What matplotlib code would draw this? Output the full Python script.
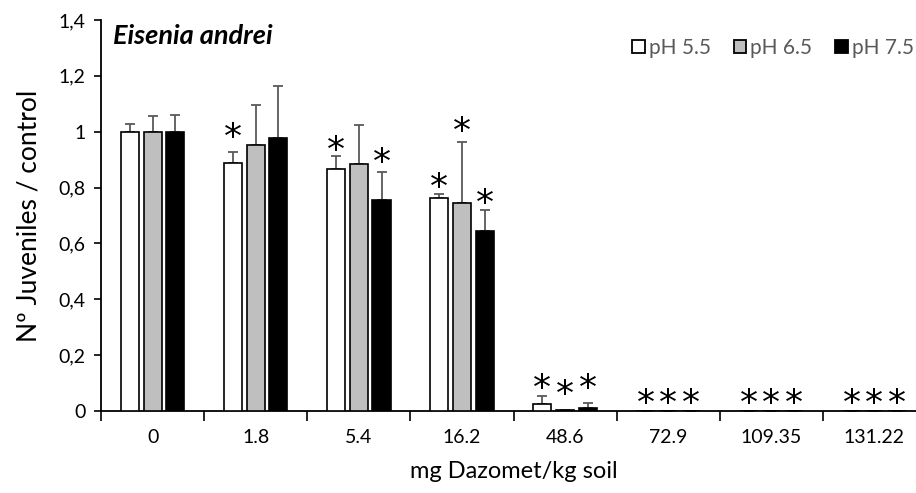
import matplotlib
matplotlib.use("Agg")
import matplotlib.pyplot as plt
import matplotlib.transforms as mtransforms
from matplotlib.patches import Patch
import numpy as np

plt.rcParams['font.family'] = ['Lato', 'DejaVu Sans']

doses = ["0", "1.8", "5.4", "16.2", "48.6", "72.9", "109.35", "131.22"]
series_names = ["pH 5.5", "pH 6.5", "pH 7.5"]
series_colors = ["white", "#bfbfbf", "black"]

mean_ph55 = [1.00, 0.888, 0.865, 0.762, 0.024, 0.0, 0.0, 0.0]
mean_ph65 = [1.00, 0.952, 0.883, 0.745, 0.003, 0.0, 0.0, 0.0]
mean_ph75 = [1.00, 0.976, 0.754, 0.643, 0.010, 0.0, 0.0, 0.0]

err_ph55 = [0.028, 0.040, 0.047, 0.015, 0.030, 0.0, 0.0, 0.0]
err_ph65 = [0.057, 0.142, 0.142, 0.219, 0.0, 0.0, 0.0, 0.0]
err_ph75 = [0.061, 0.186, 0.100, 0.077, 0.018, 0.0, 0.0, 0.0]

# heights of significance asterisks (None = not significant)
star_ph55 = [None, 1.014, 0.968, 0.836, 0.117, 0.063, 0.063, 0.063]
star_ph65 = [None, None, None, 1.037, 0.096, 0.063, 0.063, 0.063]
star_ph75 = [None, None, 0.926, 0.780, 0.115, 0.063, 0.063, 0.063]

yticks = [0, 0.2, 0.4, 0.6, 0.8, 1.0, 1.2, 1.4]
ytick_labels = ["0", "0,2", "0,4", "0,6", "0,8", "1", "1,2", "1,4"]

means = [mean_ph55, mean_ph65, mean_ph75]
errs = [err_ph55, err_ph65, err_ph75]
stars = [star_ph55, star_ph65, star_ph75]

fig = plt.figure(figsize=(9.16, 4.93), dpi=100)
ax = fig.add_axes([101 / 916, 82 / 493, 825 / 916, 391 / 493])

x = np.arange(len(doses))
width = 0.175
step = 0.22
star_size = 26

for i in range(3):
    pos = x + (i - 1) * step
    ax.bar(pos, means[i], width, color=series_colors[i], edgecolor="black",
           linewidth=1.2, zorder=3)
    ax.errorbar(pos, means[i], yerr=[np.zeros(len(doses)), errs[i]],
                fmt="none", ecolor="#595959", elinewidth=1.3, capsize=3.3,
                capthick=1.3, zorder=2)
    star_offset = mtransforms.offset_copy(ax.transData, fig=fig, x=0,
                                          y=-0.29 * star_size, units="points")
    for p, s in zip(pos, stars[i]):
        if s is not None:
            ax.text(p, s, "*", ha="center", va="center", fontsize=star_size,
                    family="DejaVu Sans", transform=star_offset, zorder=4)

ax.set_xlim(-0.5, len(doses) - 0.5)
ax.set_ylim(0, 1.4)
ax.set_yticks(yticks)
ax.set_yticklabels(ytick_labels, fontsize=14)
ax.set_xticks(x)
ax.set_xticklabels(doses, fontsize=14)
ax.set_xticks(np.arange(len(doses) + 1) - 0.5, minor=True)
ax.tick_params(axis="x", which="major", length=0, pad=13)
ax.tick_params(axis="x", which="minor", length=7, width=1.2, direction="out")
ax.tick_params(axis="y", length=5, width=1.2, direction="out", pad=6)

for side in ("top", "right"):
    ax.spines[side].set_visible(False)
for side in ("left", "bottom"):
    ax.spines[side].set_linewidth(1.3)

ax.set_ylabel("Nº Juveniles / control", fontsize=19, labelpad=12)
ax.set_xlabel("mg Dazomet/kg soil", fontsize=17, labelpad=11)

ax.text(0.014, 0.99, "Eisenia andrei", transform=ax.transAxes, fontsize=19.5,
        fontweight="bold", fontstyle="italic", ha="left", va="top")

handles = [Patch(facecolor=c, edgecolor="black", linewidth=1.3) for c in series_colors]
fig.legend(handles, series_names, loc="center right",
           bbox_to_anchor=(914 / 916, 1 - 48 / 493), ncol=3, frameon=False,
           fontsize=15, labelcolor="#595959", handlelength=0.6,
           handleheight=0.6, handletextpad=0.2, columnspacing=1.1,
           borderaxespad=0, borderpad=0)

fig.savefig("out.png", dpi=100)
